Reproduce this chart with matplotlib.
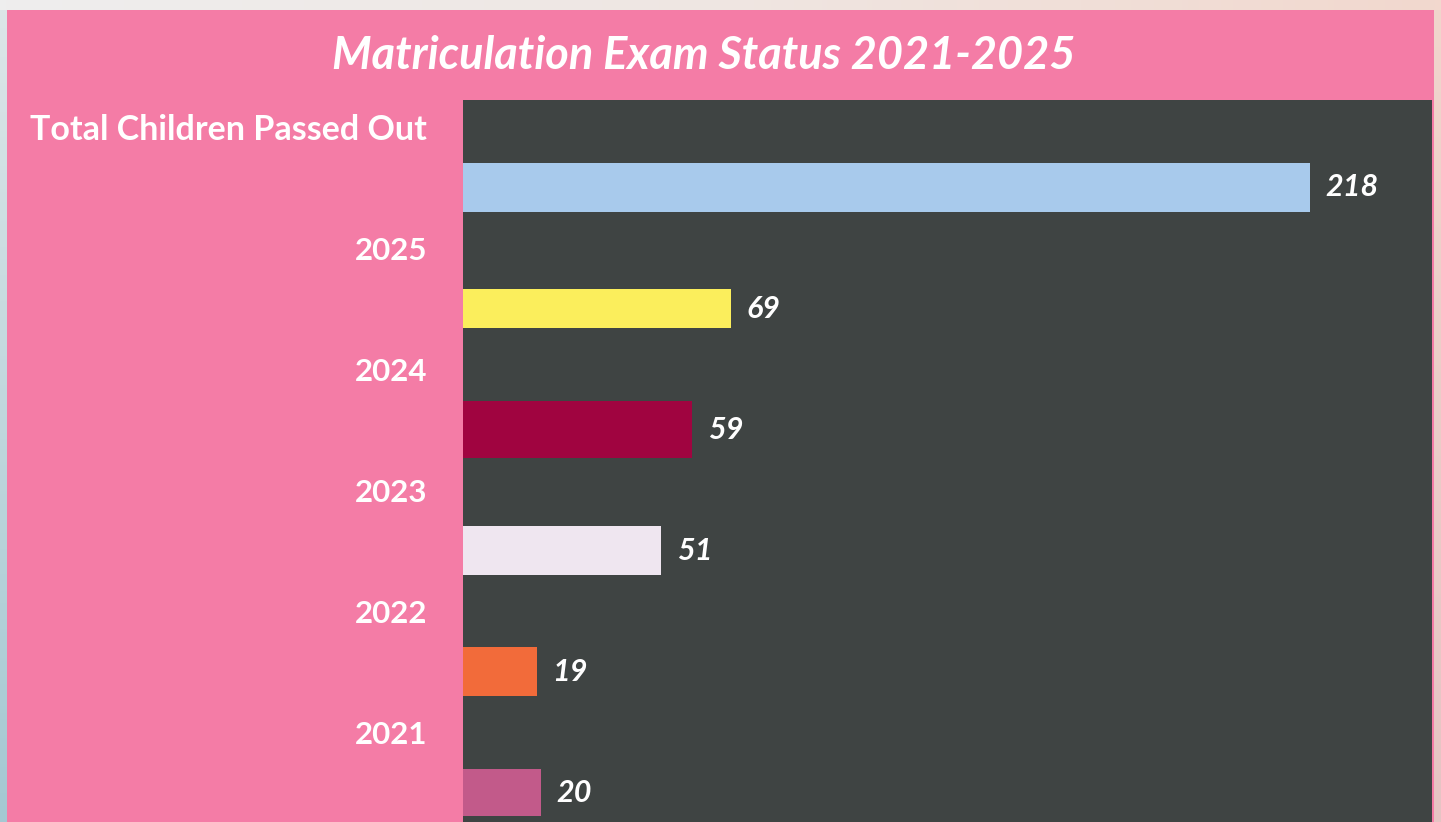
import matplotlib
matplotlib.use("Agg")
import matplotlib.pyplot as plt
import numpy as np
from matplotlib.patches import Rectangle
from matplotlib.colors import LinearSegmentedColormap

# ---- data ----
title = "Matriculation Exam Status 2021-2025"
row_labels = ["Total Children Passed Out", "2025", "2024", "2023", "2022", "2021"]
values = [218, 69, 59, 51, 19, 20]
bar_colors = ["#A8CAEC", "#FBEE5C", "#A00440", "#EFE6F0", "#F26B3A", "#C25A8A"]
bar_heights = [0.40, 0.33, 0.47, 0.40, 0.40, 0.39]

PINK = "#F47CA6"
DARK = "#3F4443"

W, H = 1441, 822
fig = plt.figure(figsize=(W / 100, H / 100), dpi=100)
fig.patch.set_facecolor("#EFEDEC")

# background layer
bg = fig.add_axes([0, 0, 1, 1], zorder=-10)
bg.axis("off")
grad = np.linspace(0, 1, 256).reshape(-1, 1)
cm_left = LinearSegmentedColormap.from_list("l", ["#DDE6E8", "#A4C8D2"])
bg.imshow(grad, extent=[0, 8, H, 0], cmap=cm_left, aspect="auto", zorder=0)
cm_right = LinearSegmentedColormap.from_list("r", ["#F1D6CC", "#E6C4C4"])
bg.imshow(grad, extent=[1434, W, H, 0], cmap=cm_right, aspect="auto", zorder=0)
cm_top = LinearSegmentedColormap.from_list("t", ["#EEEEEE", "#EFE6E2", "#F2D8CE"])
bg.imshow(np.linspace(0, 1, 256).reshape(1, -1), extent=[0, W, 10, 0], cmap=cm_top,
          aspect="auto", zorder=0)
bg.add_patch(Rectangle((7, 10), 1434 - 7, H - 10, facecolor=PINK, edgecolor="none", zorder=1))
bg.set_xlim(0, W)
bg.set_ylim(H, 0)

# chart
left_px, right_px, top_px = 463, 1432, 100
ax = fig.add_axes([left_px / W, 0, (right_px - left_px) / W, 1 - top_px / H])
ax.set_facecolor(DARK)
for s in ax.spines.values():
    s.set_visible(False)

n = len(values)
pos = np.arange(n)
ax.barh(pos, values, height=bar_heights, color=bar_colors, edgecolor="none")

px_per_unit = 121.0
ax.set_ylim((H - top_px) / px_per_unit - 87.5 / px_per_unit, -87.5 / px_per_unit)
ax.set_xlim(0, 249.4)
ax.set_xticks([])

ax.set_yticks(pos - 0.5)
ax.set_yticklabels(row_labels, fontsize=22.5, fontweight="bold", color="white",
                   family="Lato")
ax.tick_params(axis="y", length=0, pad=26)
ax.get_yticklabels()[0].set_fontsize(24.5)

for p, v in zip(pos, values):
    ax.text(v + 4.0, p, str(v), va="center", ha="left", color="white",
            fontsize=22, fontstyle="italic", fontweight="bold", family="Lato")

fig.text(704 / W, 1 - 56 / H, title, ha="center", va="center", color="white",
         fontsize=32.5, fontstyle="italic", fontweight="bold", family="Lato")

fig.savefig("out.png", dpi=100, facecolor=fig.get_facecolor())
